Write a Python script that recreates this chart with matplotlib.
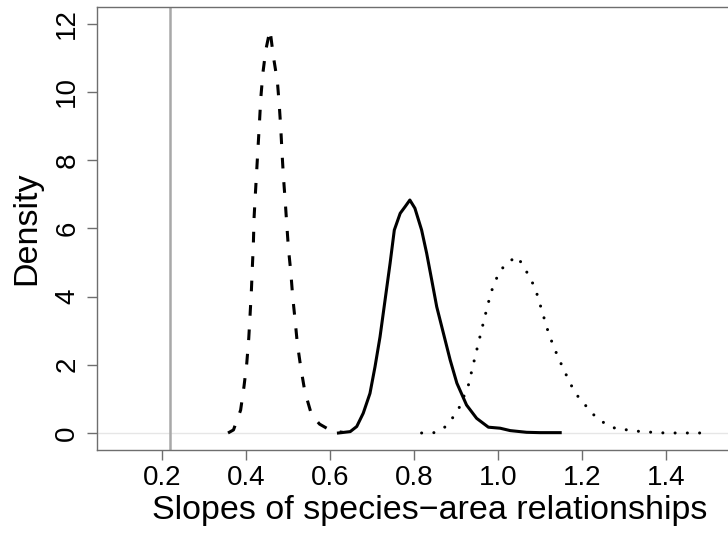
import matplotlib
matplotlib.use("Agg")
import matplotlib.pyplot as plt
import numpy as np

plt.rcParams['font.family'] = ['Liberation Sans', 'DejaVu Sans']

# Dashed density curve
dash_x = [0.357, 0.370, 0.387, 0.395, 0.4016, 0.4064, 0.4095, 0.4127, 0.415, 0.4174,
          0.419, 0.422, 0.4254, 0.4286, 0.432, 0.435, 0.440, 0.447, 0.457, 0.465,
          0.4746, 0.479, 0.4826, 0.4857, 0.4889, 0.493, 0.497, 0.5008, 0.5064, 0.511,
          0.5167, 0.522, 0.530, 0.540, 0.556, 0.575, 0.592, 0.610, 0.630]
dash_y = [0.0, 0.09, 0.67, 1.36, 2.04, 2.78, 3.46, 4.19, 4.88, 5.56,
          6.30, 6.98, 7.71, 8.40, 9.13, 9.81, 10.55, 11.23, 11.82, 11.04,
          10.30, 9.62, 8.94, 8.20, 7.52, 6.83, 6.10, 5.42, 4.73, 4.00,
          3.31, 2.63, 1.94, 1.21, 0.53, 0.26, 0.14, 0.05, 0.02]

# Solid density curve
solid_x = [0.620, 0.648, 0.6635, 0.679, 0.695, 0.707, 0.719, 0.731, 0.743, 0.753,
           0.767, 0.779, 0.790, 0.802, 0.818, 0.830, 0.842, 0.854, 0.870, 0.886,
           0.902, 0.925, 0.949, 0.977, 1.005, 1.029, 1.068, 1.100, 1.148]
solid_y = [0.0, 0.04, 0.19, 0.58, 1.16, 1.94, 2.82, 3.90, 4.98, 5.95,
           6.44, 6.64, 6.83, 6.59, 5.95, 5.27, 4.49, 3.70, 2.92, 2.14,
           1.46, 0.82, 0.43, 0.17, 0.14, 0.07, 0.02, 0.01, 0.01]

# Dotted density curve
dot_x = [0.818, 0.848, 0.873, 0.891, 0.907, 0.929, 0.942, 0.9555, 0.969, 0.983,
         0.993, 1.005, 1.025, 1.046, 1.062, 1.076, 1.089, 1.097, 1.1055, 1.113,
         1.122, 1.132, 1.143, 1.155, 1.167, 1.180, 1.196, 1.215, 1.233, 1.257,
         1.284, 1.311, 1.340, 1.369, 1.398, 1.425, 1.455, 1.483]
dot_y = [0.0, 0.01, 0.17, 0.43, 0.73, 1.38, 2.06, 2.75, 3.43, 4.11,
         4.44, 4.76, 5.02, 5.17, 4.86, 4.55, 4.23, 3.89, 3.55, 3.22,
         2.87, 2.55, 2.22, 1.90, 1.58, 1.26, 0.97, 0.72, 0.46, 0.26,
         0.11, 0.09, 0.04, 0.02, 0.0, 0.0, 0.0, 0.0]

ref_slope = 0.22
x_ticks = [0.2, 0.4, 0.6, 0.8, 1.0, 1.2, 1.4]
x_ticklabels = ["0.2", "0.4", "0.6", "0.8", "1.0", "1.2", "1.4"]
y_ticks = [0, 2, 4, 6, 8, 10, 12]
y_ticklabels = ["0", "2", "4", "6", "8", "10", "12"]

W, H = 728, 534
fig = plt.figure(figsize=(W / 100, H / 100), dpi=100)
left_px, right_px, top_px, bottom_px = 97, 763, 7.3, 449.7
ax = fig.add_axes([left_px / W, 1 - bottom_px / H, (right_px - left_px) / W,
                   (bottom_px - top_px) / H])

ax.set_xlim(0.045, 0.2 + (right_px - 162) / 420)
ax.set_ylim(-0.49, 12.48)

ax.axhline(0, color='#e6e6e6', lw=1.0, zorder=1)
ax.axvline(ref_slope, color='#a8a8a8', lw=1.8, zorder=1)

lw = 2.2
ax.plot(dash_x, dash_y, color='black', lw=lw, linestyle=(0, (3.5, 4.5)),
        dash_capstyle='butt', zorder=3)
ax.plot(solid_x, solid_y, color='black', lw=lw, solid_joinstyle='round', zorder=3)
ax.plot(dot_x, dot_y, color='black', lw=lw, linestyle=(0, (0.01, 4.0)),
        dash_capstyle='round', zorder=3)

for s in ax.spines.values():
    s.set_color('#6e6e6e')
    s.set_linewidth(1.0)

ax.set_xticks(x_ticks)
ax.set_xticklabels(x_ticklabels)
ax.set_yticks(y_ticks)
ax.set_yticklabels(y_ticklabels, rotation=90, va='center')
ax.tick_params(axis='both', colors='#6e6e6e', labelcolor='black', labelsize=20,
               length=7, width=1.0)
ax.tick_params(axis='x', pad=4)
ax.tick_params(axis='y', pad=5)

fig.text(430 / W, 1 - 511 / H, "Slopes of species\u2212area relationships",
         ha='center', va='center', fontsize=24.5)
fig.text(27 / W, 1 - 228.5 / H, "Density", ha='center', va='center',
         rotation=90, fontsize=24.5)

fig.savefig("out.png", dpi=100)
